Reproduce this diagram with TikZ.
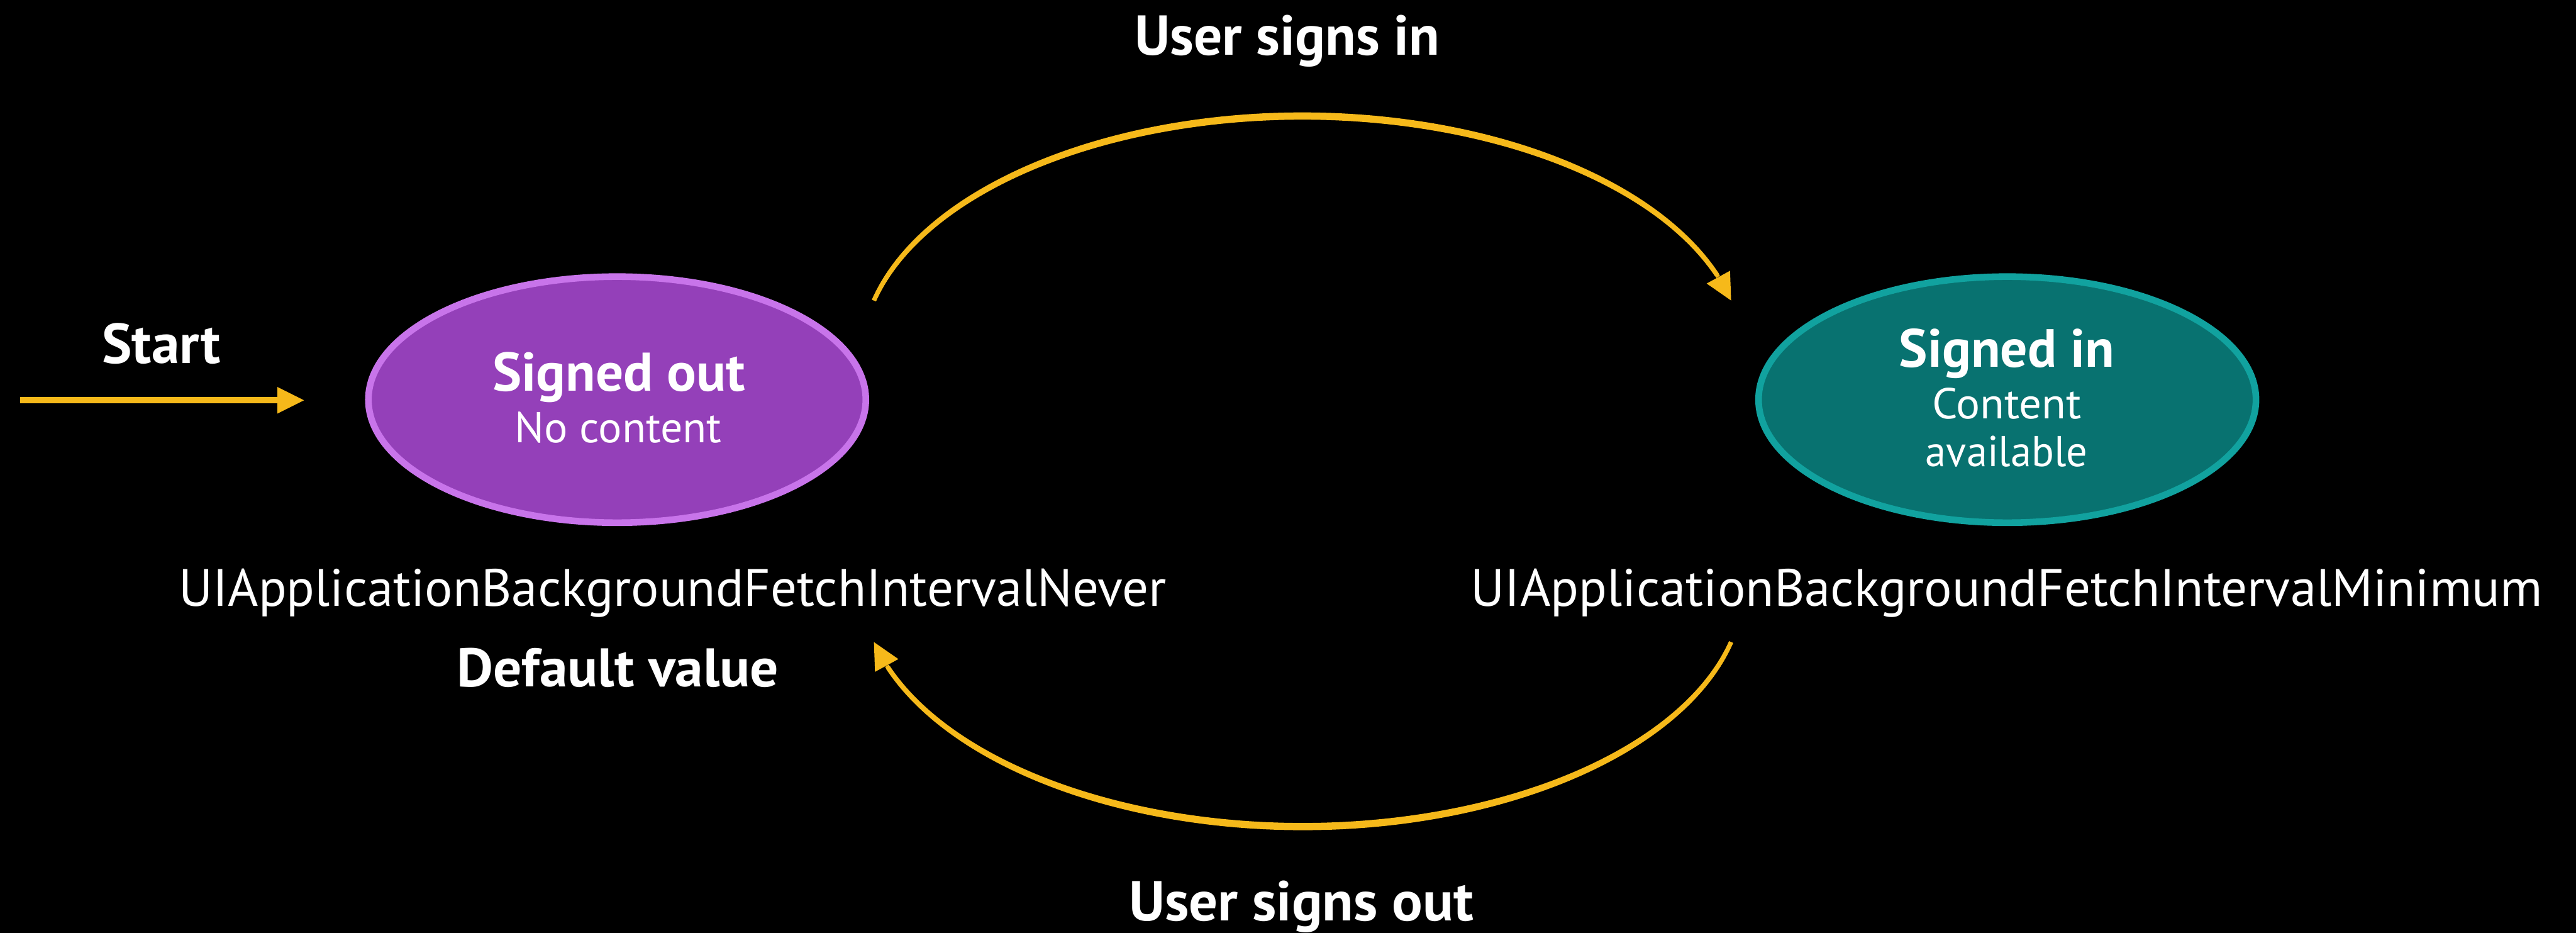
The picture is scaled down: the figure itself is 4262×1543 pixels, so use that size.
\documentclass[tikz,border=0pt]{standalone}
\usepackage{fontspec}
\setmainfont{PT Sans}
\usetikzlibrary{shapes.geometric,arrows.meta,bending,calc}

\definecolor{gold}{HTML}{F6B91A}
\definecolor{outfill}{HTML}{9440B9}
\definecolor{outedge}{HTML}{C874EA}
\definecolor{infill}{HTML}{087270}
\definecolor{inedge}{HTML}{11A29F}

% text squeezed to a given width, keeping its natural height
\newcommand\fitlabel[3]{\resizebox{#1pt}{\height}{\fontsize{#2pt}{#2pt}\selectfont #3}}

\tikzset{
  lbl/.style={text=white, inner sep=0pt, outer sep=0pt, anchor=base},
  state/.style={ellipse, minimum width=823pt, minimum height=407pt,
                line width=11pt, inner sep=0pt},
  head/.style={-{Triangle[length=44pt,width=44pt,line width=0pt]}},
  flow/.style={draw=gold, line width=7pt, head},
}

\begin{document}
\begin{tikzpicture}[x=1pt,y=1pt]
\useasboundingbox (0,0) rectangle (4262,1543);
\fill[black] (0,0) rectangle (4262,1543);

% states
\node[state, fill=outfill, draw=outedge] (out) at (1021,882) {};
\node[state, fill=infill,  draw=inedge]  (in)  at (3321,882) {};

\node[lbl] (outT) at (1024,896) {\fitlabel{418}{90}{\bfseries Signed out}};
\node[lbl] (outS) at (1023,811) {\fitlabel{342}{71.5}{No content}};
\node[lbl] (inT)  at (3320,936) {\fitlabel{356}{89}{\bfseries Signed in}};
\node[lbl] (inS1) at (3320,851) {\fitlabel{247}{71.5}{Content}};
\node[lbl] (inS2) at (3320,771) {\fitlabel{268}{71.5}{available}};

% constants under each state
\node[lbl] (never) at (1113,540) {\fitlabel{1634}{87}{UIApplicationBackgroundFetchIntervalNever}};
\node[lbl] (dflt)  at (1022,407) {\fitlabel{533}{90}{\bfseries Default value}};
\node[lbl] (mini)  at (3320,540) {\fitlabel{1773}{87}{UIApplicationBackgroundFetchIntervalMinimum}};

% entry arrow
\node[lbl] (start) at (267,942) {\fitlabel{196}{93}{\bfseries Start}};
\coordinate (s0) at (33,881);
\coordinate (s1) at (503,881);
\draw[draw=gold, line width=10pt, head] (s0) -- (s1);

% transitions
\coordinate (c1) at (2155,951);
\coordinate (c2) at (2155,576);
\coordinate (topL) at ($(c1)+(166.26:730 and 400)$);
\coordinate (botR) at ($(c2)+(-13.74:730 and 400)$);

% thicker middle of each transition
\fill[gold] ($(c1)+(166.26:733.5 and 406)$)
  arc[start angle=166.26, end angle=20, x radius=733.5, y radius=406]
  -- ($(c1)+(20:726.5 and 394)$)
  arc[start angle=20, end angle=166.26, x radius=726.5, y radius=394] -- cycle;
\fill[gold] ($(c2)+(-13.74:733.5 and 406)$)
  arc[start angle=-13.74, end angle=-160, x radius=733.5, y radius=406]
  -- ($(c2)+(-160:726.5 and 394)$)
  arc[start angle=-160, end angle=-13.74, x radius=726.5, y radius=394] -- cycle;

\draw[flow] (topL) arc[start angle=166.26, end angle=13.74, x radius=730, y radius=400];
\draw[flow] (botR) arc[start angle=-13.74, end angle=-166.26, x radius=730, y radius=400];

\node[lbl] (signin)  at (2130,1452) {\fitlabel{505}{93}{\bfseries User signs in}};
\node[lbl] (signout) at (2153,20)   {\fitlabel{570}{93}{\bfseries User signs out}};
\end{tikzpicture}
\end{document}
